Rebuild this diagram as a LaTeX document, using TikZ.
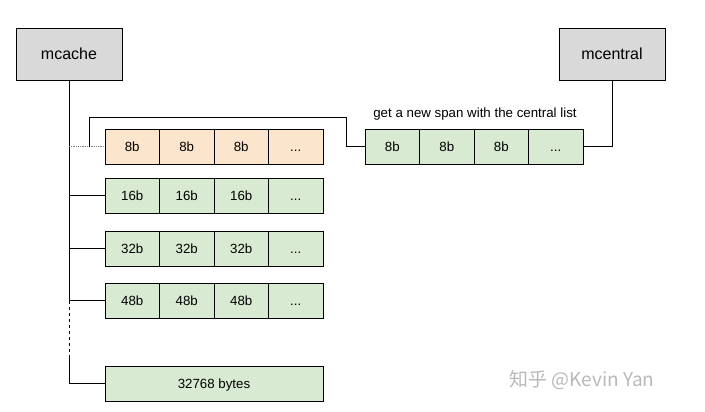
\documentclass[tikz,border=0pt]{standalone}
\usepackage{fontspec}
\setmainfont{Liberation Sans}
\newfontfamily\cjk{Noto Sans CJK SC}
\usepackage{xcolor}
\usepackage{tikz}
\usetikzlibrary{calc, positioning}
\tikzset{
    boxnode/.style = {draw, rectangle, fill=gra, minimum width=106pt, minimum height=52pt,
      inner sep = 0em, outer sep = 0em, line width=0.9pt, font=\fontsize{16}{18}\selectfont},
    cellnode/.style = {draw, rectangle, fill=spangreen, minimum width=54.5pt, minimum height=35pt,
      inner sep = 0em, outer sep = 0em, node distance=0em, line width=0.9pt, text height=9.6pt, text depth=0pt,
      font=\fontsize{13.3}{15}\selectfont},
    textnode/.style  = {draw=none, fill=none, rectangle, inner sep = 0em, font=\fontsize{13.3}{15}\selectfont},
    connect/.style = {black, line width=0.9pt},
}
\definecolor{gra}{RGB}{217, 217, 217}
\definecolor{spangreen}{RGB}{217, 234, 211}
\definecolor{spanorange}{RGB}{252, 229, 205}
\definecolor{markgray}{RGB}{185, 185, 185}

\begin{document}
\begin{tikzpicture}[x=1pt, y=-1pt]
    \useasboundingbox (0,0) rectangle (705,412);

    \node [name = mcache, boxnode] at (69,54) {mcache};
    \node [name = mcentral, boxnode] at (612,54) {mcentral};

    % span lists held by mcache
    \node [name = r8a, cellnode, fill=spanorange] at (132.25,146.5) {8b};
    \node [name = r8b, cellnode, fill=spanorange, right of = r8a, xshift=54.5pt] {8b};
    \node [name = r8c, cellnode, fill=spanorange, right of = r8b, xshift=54.5pt] {8b};
    \node [name = r8d, cellnode, fill=spanorange, right of = r8c, xshift=54.5pt] {...};

    \node [name = r16a, cellnode] at (132.25,195.5) {16b};
    \node [name = r16b, cellnode, right of = r16a, xshift=54.5pt] {16b};
    \node [name = r16c, cellnode, right of = r16b, xshift=54.5pt] {16b};
    \node [name = r16d, cellnode, right of = r16c, xshift=54.5pt] {...};

    \node [name = r32a, cellnode] at (132.25,248.5) {32b};
    \node [name = r32b, cellnode, right of = r32a, xshift=54.5pt] {32b};
    \node [name = r32c, cellnode, right of = r32b, xshift=54.5pt] {32b};
    \node [name = r32d, cellnode, right of = r32c, xshift=54.5pt] {...};

    \node [name = r48a, cellnode] at (132.25,300.5) {48b};
    \node [name = r48b, cellnode, right of = r48a, xshift=54.5pt] {48b};
    \node [name = r48c, cellnode, right of = r48b, xshift=54.5pt] {48b};
    \node [name = r48d, cellnode, right of = r48c, xshift=54.5pt] {...};

    \node [name = big, cellnode, minimum width=218pt] at (214,383.5) {32768 bytes};

    % new span from mcentral
    \node [name = c8a, cellnode] at (392.25,146.5) {8b};
    \node [name = c8b, cellnode, right of = c8a, xshift=54.5pt] {8b};
    \node [name = c8c, cellnode, right of = c8b, xshift=54.5pt] {8b};
    \node [name = c8d, cellnode, right of = c8c, xshift=54.5pt] {...};

    \node [name = spantext, textnode] at (475,114) {get a new span with the central list};

    \node [name = mark, textnode, text=markgray, font=\cjk\fontsize{19}{21}\selectfont] at (582,380) {知乎 @Kevin Yan};

    \coordinate (hook) at (89,146.5);
    \coordinate (bend) at (346,117);
    \coordinate (dashend) at (69,358);

    \draw [connect] (mcache.south) |- (r16a.west);
    \draw [connect] (mcache.south) |- (r32a.west);
    \draw [connect] (mcache.south) |- (r48a.west);
    \draw [connect, dashed, line width=0.7pt] (mcache.south |- r48a.west) -- (dashend);
    \draw [connect] (dashend) |- (big.west);
    \draw [gray, densely dotted, line width=0.8pt] (mcache.south |- r8a.west) -- (r8a.west);
    \draw [connect] (hook) |- (bend) |- (c8a.west);
    \draw [connect] (c8d.east) -| (mcentral.south);
\end{tikzpicture}
\end{document}
